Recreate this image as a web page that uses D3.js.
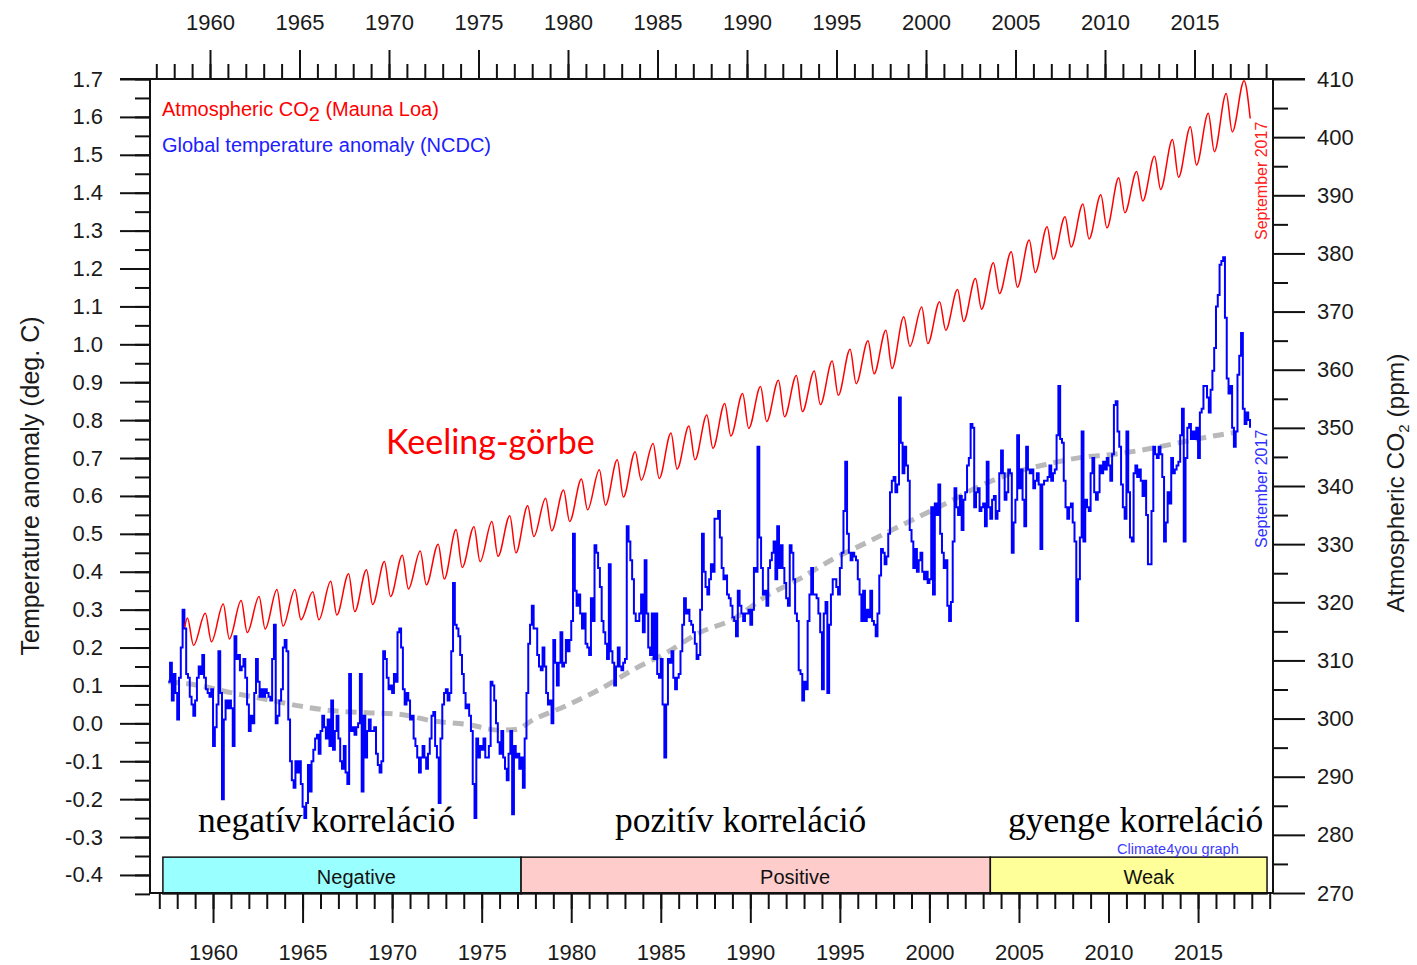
<!DOCTYPE html>
<html>
<head>
<meta charset="utf-8">
<script src="https://cdn.jsdelivr.net/npm/d3@7"></script>
<style>
  body { margin: 0; background: #fff; }
  svg text { font-family: Arial, "Liberation Sans", sans-serif; }
</style>
</head>
<body>
<svg id="chart" width="1417" height="965"></svg>
<script>
// Mauna Loa CO2: yearly May peak and September trough (ppm), 1958-2017
const co2Years = d3.range(1958, 2018);
const co2Peak = [317.3, 318.1, 319.7, 320.3, 321.0, 322.2, 322.2, 321.8, 323.6, 324.9,
                 325.6, 327.0, 328.1, 328.8, 330.0, 332.5, 333.0, 333.9, 334.9, 336.6,
                 337.9, 339.3, 341.2, 342.8, 344.5, 345.9, 347.3, 349.1, 350.3, 352.2,
                 354.2, 355.9, 357.1, 358.2, 359.0, 359.8, 361.5, 363.5, 365.0, 366.8,
                 369.1, 370.8, 371.7, 373.8, 375.7, 378.4, 380.3, 382.3, 384.6, 386.3,
                 388.5, 390.1, 393.0, 394.1, 396.7, 399.6, 401.8, 404.1, 407.5, 409.7];
const co2Trough = [312.6, 313.2, 313.7, 314.8, 315.4, 315.9, 317.0, 317.0, 317.8, 318.4,
                   319.6, 321.0, 322.3, 323.0, 324.0, 326.0, 327.0, 327.9, 328.5, 331.3,
                   332.3, 333.9, 335.9, 336.7, 338.1, 341.0, 341.3, 342.9, 344.5, 346.5,
                   348.6, 349.9, 351.1, 351.9, 352.8, 354.0, 355.6, 357.6, 359.3, 360.2,
                   364.0, 364.5, 366.8, 368.3, 370.4, 373.1, 374.2, 376.7, 379.0, 381.1,
                   382.5, 384.4, 387.0, 389.0, 391.0, 393.1, 395.2, 397.5, 400.9, 403.2];
const co2First = { t: 1958.21, v: 315.7 };

// NCDC global temperature anomaly (deg C), one reading every 0.1 year from 1957.3
const tempStart = 1957.3, tempStep = 0.1;
const tempValues = [
  0.11,0.16,0.06,0.13,0.08,0.01,0.12,0.20,0.30,0.25,
  0.13,0.12,0.07,0.05,0.02,0.06,0.12,0.15,0.13,0.18,
  0.12,0.09,0.08,0.07,0.09,-0.06,-0.01,0.05,0.19,0.08,
  -0.20,0.01,0.06,0.04,0.06,0.04,-0.06,0.23,0.17,0.18,
  0.14,0.15,0.17,0.12,0.05,-0.02,0.02,0.00,0.08,0.17,
  0.11,0.07,0.09,0.07,0.09,0.08,0.07,0.06,0.17,0.26,
  0.00,0.02,0.06,0.09,0.20,0.22,0.19,0.01,-0.10,-0.15,
  -0.17,-0.10,-0.13,-0.10,-0.16,-0.22,-0.25,-0.21,-0.11,-0.18,
  -0.10,-0.07,-0.04,-0.03,-0.08,-0.02,0.02,-0.01,-0.04,0.01,
  -0.06,0.06,-0.07,-0.02,0.02,-0.04,-0.10,-0.12,-0.06,-0.13,
  -0.16,0.13,-0.02,-0.01,-0.03,-0.01,0.00,0.13,-0.18,0.02,
  -0.09,-0.02,0.01,-0.02,-0.02,-0.01,-0.08,-0.11,-0.13,-0.10,
  0.19,0.17,0.12,0.09,0.10,0.08,0.13,0.11,0.24,0.25,
  0.20,0.09,0.05,0.08,0.06,0.01,0.02,-0.04,-0.06,-0.09,
  -0.13,-0.09,-0.06,-0.09,-0.12,-0.08,-0.04,0.02,0.03,-0.06,
  -0.09,-0.21,-0.04,0.05,0.08,0.09,0.06,0.08,0.19,0.37,
  0.26,0.25,0.23,0.18,0.13,0.08,0.04,0.05,0.02,-0.02,
  -0.16,-0.25,-0.04,-0.09,-0.06,-0.07,-0.04,-0.09,-0.09,-0.06,
  0.11,0.10,0.06,0.00,-0.05,-0.08,-0.02,-0.09,-0.12,-0.15,
  -0.08,-0.02,-0.24,-0.06,-0.09,-0.08,-0.12,-0.09,-0.17,-0.04,
  0.08,0.21,0.26,0.31,0.25,0.25,0.18,0.15,0.14,0.20,
  0.15,0.08,0.05,0.06,0.00,0.22,0.16,0.10,0.16,0.24,
  0.15,0.16,0.22,0.19,0.22,0.27,0.50,0.35,0.31,0.34,
  0.29,0.25,0.29,0.21,0.20,0.18,0.33,0.27,0.47,0.45,
  0.41,0.36,0.27,0.24,0.21,0.17,0.42,0.19,0.16,0.10,
  0.15,0.20,0.15,0.14,0.16,0.17,0.52,0.48,0.43,0.38,
  0.29,0.27,0.27,0.29,0.34,0.24,0.43,0.29,0.20,0.18,
  0.29,0.17,0.29,0.13,0.12,0.17,0.05,-0.09,0.05,0.17,
  0.16,0.19,0.12,0.09,0.12,0.13,0.19,0.26,0.33,0.29,
  0.30,0.27,0.26,0.24,0.21,0.17,0.18,0.30,0.50,0.40,
  0.36,0.34,0.38,0.42,0.40,0.54,0.54,0.56,0.49,0.41,
  0.38,0.39,0.34,0.33,0.31,0.28,0.27,0.23,0.35,0.31,
  0.29,0.27,0.29,0.29,0.30,0.26,0.30,0.41,0.40,0.73,
  0.49,0.41,0.34,0.35,0.31,0.41,0.43,0.45,0.48,0.38,
  0.52,0.41,0.47,0.41,0.37,0.33,0.31,0.47,0.45,0.38,
  0.29,0.27,0.14,0.13,0.06,0.11,0.09,0.27,0.34,0.41,
  0.34,0.34,0.33,0.29,0.24,0.09,0.29,0.32,0.08,0.26,
  0.34,0.38,0.38,0.36,0.34,0.41,0.45,0.56,0.69,0.50,
  0.45,0.43,0.45,0.44,0.43,0.38,0.34,0.27,0.35,0.27,
  0.30,0.28,0.35,0.27,0.26,0.23,0.29,0.39,0.46,0.45,
  0.42,0.44,0.50,0.61,0.64,0.65,0.61,0.63,0.86,0.74,
  0.66,0.73,0.68,0.64,0.51,0.48,0.41,0.46,0.40,0.43,
  0.45,0.40,0.38,0.40,0.37,0.38,0.57,0.34,0.58,0.55,
  0.63,0.50,0.45,0.41,0.43,0.31,0.27,0.32,0.48,0.62,
  0.57,0.55,0.60,0.51,0.59,0.61,0.68,0.70,0.79,0.78,
  0.57,0.61,0.62,0.56,0.57,0.58,0.52,0.69,0.57,0.54,
  0.59,0.60,0.54,0.56,0.66,0.72,0.66,0.59,0.61,0.67,
  0.66,0.45,0.53,0.59,0.76,0.62,0.67,0.59,0.52,0.73,
  0.67,0.66,0.67,0.62,0.64,0.66,0.63,0.46,0.63,0.64,
  0.64,0.65,0.68,0.64,0.66,0.67,0.76,0.89,0.75,0.74,
  0.64,0.57,0.54,0.57,0.58,0.53,0.48,0.27,0.38,0.49,
  0.77,0.48,0.59,0.57,0.56,0.66,0.70,0.61,0.59,0.61,
  0.68,0.66,0.69,0.67,0.70,0.68,0.64,0.71,0.84,0.85,
  0.77,0.73,0.63,0.57,0.54,0.77,0.61,0.49,0.48,0.66,
  0.68,0.65,0.67,0.64,0.60,0.64,0.55,0.42,0.42,0.56,
  0.73,0.71,0.70,0.73,0.71,0.65,0.48,0.53,0.61,0.58,
  0.70,0.66,0.67,0.68,0.69,0.76,0.83,0.48,0.70,0.78,
  0.79,0.75,0.77,0.75,0.78,0.70,0.82,0.83,0.89,0.89,
  0.86,0.82,0.88,0.93,0.99,1.10,1.13,1.21,1.22,1.23,
  1.07,0.91,0.87,0.89,0.78,0.73,0.77,0.92,0.97,1.03,
  0.83,0.79,0.82,0.80,0.78];

// long-term smoothed temperature (grey dashed)
const smoothYears = [1957.3, 1959.0, 1960.9, 1962.8, 1964.6, 1966.5, 1968.4, 1970.2, 1972.1, 1974.0,
                     1975.8, 1976.7, 1977.7, 1979.5, 1981.4, 1983.2, 1985.1, 1987.0, 1988.8, 1990.7,
                     1992.5, 1994.4, 1996.3, 1998.9, 2000.8, 2002.6, 2004.5, 2006.3, 2008.2, 2010.1,
                     2011.9, 2013.8, 2015.6, 2016.8];
const smoothValues = [0.11, 0.10, 0.08, 0.063, 0.046, 0.033, 0.028, 0.024, 0.006, -0.003,
                      -0.018, -0.016, 0.01, 0.046, 0.09, 0.14, 0.186, 0.24, 0.274, 0.336,
                      0.38, 0.433, 0.477, 0.538, 0.582, 0.626, 0.661, 0.683, 0.701, 0.71,
                      0.723, 0.741, 0.758, 0.767];

// correlation periods
const bandNames = ["Negative", "Positive", "Weak"];
const bandStart = [1957.0, 1977.0, 2003.2];
const bandEnd = [1977.0, 2003.2, 2018.65];
const bandLabelAt = [1967.8, 1992.3, 2012.05];
const bandColors = ["#99ffff", "#ffcccc", "#ffff99"];

const labelYears = d3.range(1960, 2020, 5);
const minorYears = d3.range(1957, 2020);

const svg = d3.select("#chart");

// scales
const xTop = d3.scaleLinear().domain([1957, 2019]).range([156.3, 1266.1]);
const xBot = d3.scaleLinear().domain([1957, 2019]).range([159.3, 1269.7]);
const x = d3.scaleLinear().domain([1957, 2019]).range([162.9, 1273.3]);
const yT = d3.scaleLinear().domain([-0.45, 1.7]).range([893.9, 79]);
const yC = d3.scaleLinear().domain([270, 410]).range([893, 79]);

// bands
const bands = svg.append("g");
bandNames.forEach((name, i) => {
    bands.append("rect")
        .attr("x", x(bandStart[i]))
        .attr("y", yT(-0.353))
        .attr("width", x(bandEnd[i]) - x(bandStart[i]))
        .attr("height", yT(-0.45) - yT(-0.353))
        .attr("fill", bandColors[i])
        .attr("stroke", "#111")
        .attr("stroke-width", 1.5);
    bands.append("text")
        .attr("x", x(bandLabelAt[i]))
        .attr("y", 884)
        .attr("text-anchor", "middle")
        .attr("font-size", 20)
        .attr("fill", "#111")
        .text(name);
});

// grey smoothed line
const smooth = smoothYears.map((t, i) => ({ t, v: smoothValues[i] }));
svg.append("path")
    .datum(smooth)
    .attr("fill", "none")
    .attr("stroke", "#b9b9b9")
    .attr("stroke-width", 5)
    .attr("stroke-dasharray", "11,7")
    .attr("d", d3.line().curve(d3.curveMonotoneX).x(d => x(d.t)).y(d => yT(d.v)));

// temperature
const temp = tempValues.map((v, i) => ({ t: tempStart + i * tempStep, v }));
svg.append("path")
    .datum(temp)
    .attr("fill", "none")
    .attr("stroke", "#0000ff")
    .attr("stroke-width", 2)
    .attr("d", d3.line().curve(d3.curveStepAfter).x(d => x(d.t)).y(d => yT(d.v)));

// CO2
const co2 = [co2First];
co2Years.forEach((yr, i) => {
    co2.push({ t: yr + 0.37, v: co2Peak[i] });
    co2.push({ t: yr + 0.71, v: co2Trough[i] });
});
svg.append("path")
    .datum(co2)
    .attr("fill", "none")
    .attr("stroke", "#ff0000")
    .attr("stroke-width", 1.5)
    .attr("d", d3.line().curve(d3.curveMonotoneX).x(d => x(d.t)).y(d => yC(d.v)));

// axes
function styleAxis(g) {
    g.attr("font-family", null).attr("font-size", null);
    g.select(".domain").remove();
    g.selectAll(".tick line").attr("stroke", "#111").attr("stroke-width", 2);
    g.selectAll(".tick text").attr("fill", "#1a1a1a").style("font-size", "22px");
}
const fmt1 = d => d.toFixed(1);

svg.append("g").attr("transform", "translate(0,79)")
    .call(d3.axisTop(xTop).tickValues(minorYears).tickSize(15).tickFormat(""))
    .call(styleAxis);
svg.append("g").attr("transform", "translate(0,79)")
    .call(d3.axisTop(xTop).tickValues(labelYears).tickSize(29).tickPadding(20).tickFormat(d3.format("d")))
    .call(styleAxis);

svg.append("g").attr("transform", "translate(0,893)")
    .call(d3.axisBottom(xBot).tickValues(minorYears).tickSize(16).tickFormat(""))
    .call(styleAxis);
svg.append("g").attr("transform", "translate(0,893)")
    .call(d3.axisBottom(xBot).tickValues(labelYears).tickSize(30).tickPadding(21).tickFormat(d3.format("d")))
    .call(styleAxis);

svg.append("g").attr("transform", "translate(150,0)")
    .call(d3.axisLeft(yT).tickValues(d3.range(-9, 35).map(k => k * 0.05)).tickSize(15).tickFormat(""))
    .call(styleAxis);
svg.append("g").attr("transform", "translate(150,0)")
    .call(d3.axisLeft(yT).tickValues(d3.range(-4, 18).map(k => k / 10)).tickSize(30).tickPadding(17).tickFormat(fmt1))
    .call(styleAxis);

svg.append("g").attr("transform", "translate(1273,0)")
    .call(d3.axisRight(yC).tickValues(d3.range(275, 410, 10)).tickSize(15).tickFormat(""))
    .call(styleAxis);
svg.append("g").attr("transform", "translate(1273,0)")
    .call(d3.axisRight(yC).tickValues(d3.range(270, 411, 10)).tickSize(32).tickPadding(12))
    .call(styleAxis);

// frame
const frame = svg.append("g").attr("stroke", "#111").attr("stroke-width", 2);
frame.append("line").attr("x1", 120).attr("x2", 1305).attr("y1", 79).attr("y2", 79);
frame.append("line").attr("x1", 150).attr("x2", 150).attr("y1", 79).attr("y2", 894);
frame.append("line").attr("x1", 1273).attr("x2", 1273).attr("y1", 79).attr("y2", 893);
frame.append("line").attr("x1", 150).attr("x2", 1273).attr("y1", 893).attr("y2", 893);

// axis titles
svg.append("text")
    .attr("transform", "translate(39,486) rotate(-90)")
    .attr("text-anchor", "middle")
    .attr("font-size", 25)
    .attr("fill", "#1a1a1a")
    .text("Temperature anomaly (deg. C)");

const rt = svg.append("text")
    .attr("transform", "translate(1404,483) rotate(-90)")
    .attr("text-anchor", "middle")
    .attr("font-size", 24.5)
    .attr("fill", "#1a1a1a");
rt.append("tspan").text("Atmospheric CO");
rt.append("tspan").attr("font-size", 15).attr("dy", 5).text("2");
rt.append("tspan").attr("dy", -5).text(" (ppm)");

// legend
const lg1 = svg.append("text").attr("x", 162).attr("y", 116).attr("font-size", 20).attr("fill", "#ff0000");
lg1.append("tspan").text("Atmospheric CO");
lg1.append("tspan").attr("dy", 5).text("2");
lg1.append("tspan").attr("dy", -5).text(" (Mauna Loa)");
svg.append("text").attr("x", 162).attr("y", 152).attr("font-size", 20).attr("fill", "#2020ff")
    .text("Global temperature anomaly (NCDC)");

// end-of-data notes
svg.append("text")
    .attr("transform", "translate(1267,240) rotate(-90)")
    .attr("font-size", 16).attr("fill", "#ff2020")
    .text("September 2017");
svg.append("text")
    .attr("transform", "translate(1267,548) rotate(-90)")
    .attr("font-size", 16).attr("fill", "#3030ff")
    .text("September 2017");

// annotations
svg.append("text")
    .attr("x", 386).attr("y", 454)
    .style("font-family", "Lato, 'Open Sans', sans-serif")
    .attr("font-size", 34).attr("fill", "#ff0000")
    .text("Keeling-görbe");

const corr = [
    { text: "negatív korreláció", x: 198 },
    { text: "pozitív korreláció", x: 615 },
    { text: "gyenge korreláció", x: 1008 }
];
corr.forEach(c => {
    svg.append("text")
        .attr("x", c.x).attr("y", 832)
        .style("font-family", "'Liberation Serif', 'DejaVu Serif', serif")
        .attr("font-size", 35.5).attr("fill", "#000")
        .text(c.text);
});

svg.append("text")
    .attr("x", 1117).attr("y", 854)
    .attr("font-size", 14.5).attr("fill", "#3c3cff")
    .text("Climate4you graph");
</script>
</body>
</html>
